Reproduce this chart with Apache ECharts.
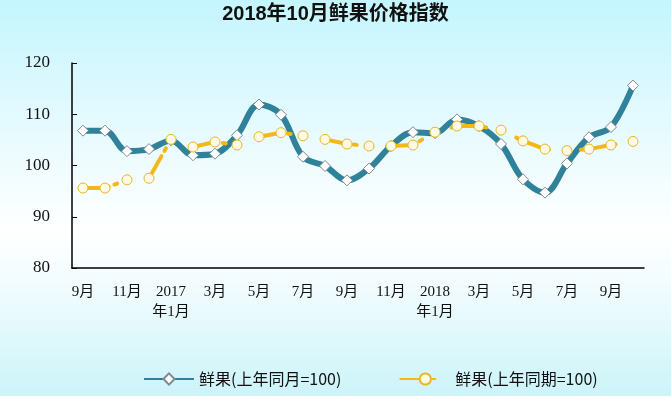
<!DOCTYPE html>
<html>
<head>
<meta charset="utf-8">
<script src="https://cdn.jsdelivr.net/npm/echarts@6/dist/echarts.min.js"></script>
<style>
html,body{margin:0;padding:0;}
#chart{width:671px;height:396px;}
</style>
</head>
<body>
<div id="chart"></div>
<script>
var categories = ['9月','10月','11月','12月','2017\n年1月','2月','3月','4月','5月','6月','7月','8月','9月','10月','11月','12月','2018\n年1月','2月','3月','4月','5月','6月','7月','8月','9月','10月'];
var seriesMonth = [106.8,106.8,102.8,103.2,104.9,102.0,102.3,105.9,111.9,109.9,101.7,99.9,97.1,99.4,103.8,106.5,106.3,109.0,107.7,104.2,97.3,94.7,100.4,105.5,107.5,115.6];
var seriesPeriod = [95.6,95.6,97.2,97.5,105.1,103.6,104.6,104.0,105.6,106.4,105.8,105.1,104.2,103.8,103.8,104.0,106.5,107.7,107.7,106.9,104.8,103.2,102.9,103.2,104.0,104.7];
var yTicks = [80,90,100,110,120];
var names = ['鲜果(上年同月=100)','鲜果(上年同期=100)'];

var serif = '"Liberation Serif","DejaVu Serif","Noto Sans CJK SC",serif';
var chart = echarts.init(document.getElementById('chart'));
chart.setOption({
  backgroundColor: new echarts.graphic.LinearGradient(0,0,0,1,[
    {offset:0,color:'#C4F5FD'},
    {offset:0.3,color:'#E4FAFE'},
    {offset:0.58,color:'#FFFFFF'},
    {offset:0.72,color:'#F2FCFE'},
    {offset:1,color:'#CCF4F9'}
  ]),
  animation:false,
  title:{
    text:'2018年10月鲜果价格指数',
    left:'center', top:0, padding:[4,0,0,12],
    textStyle:{fontSize:20,fontWeight:'bold',color:'#111',fontFamily:'"Liberation Sans","Noto Sans CJK SC",sans-serif'}
  },
  legend:{
    left:138, top:366, itemWidth:50, itemHeight:14, itemGap:58,
    textStyle:{fontSize:16,color:'#111',fontFamily:'"Noto Sans CJK SC",sans-serif'},
    data:names
  },
  grid:{left:72,right:27,top:63,bottom:128},
  xAxis:{
    type:'category', data:categories, boundaryGap:true,
    axisLine:{lineStyle:{color:'#000',width:1.5}},
    axisTick:{inside:true,length:5,interval:0,lineStyle:{color:'#000'}},
    axisLabel:{interval:1,margin:14,fontSize:15,lineHeight:20,color:'#111',fontFamily:serif}
  },
  yAxis:{
    type:'value', min:yTicks[0], max:yTicks[yTicks.length-1], interval:10,
    axisLine:{show:true,lineStyle:{color:'#000',width:1.5}},
    axisTick:{show:true,inside:true,length:5,lineStyle:{color:'#000'}},
    splitLine:{show:false},
    axisLabel:{margin:22,fontSize:17,color:'#111',fontFamily:serif}
  },
  series:[
    {
      name:names[0], type:'line', data:seriesMonth, smooth:0.35,
      symbol:'diamond', symbolSize:11, showAllSymbol:true,
      lineStyle:{color:'#2F8299',width:6},
      itemStyle:{color:'#FFFFFF',borderColor:'#7C8A92',borderWidth:1},
      z:2
    },
    {
      name:names[1], type:'line', data:seriesPeriod,
      symbol:'circle', symbolSize:10, showAllSymbol:true,
      lineStyle:{color:'#F4B71A',width:4,type:[26,6,3,32],cap:'round'},
      itemStyle:{color:'#FFFBE3',borderColor:'#E9B62A',borderWidth:1},
      z:3
    }
  ]
});
</script>
</body>
</html>
